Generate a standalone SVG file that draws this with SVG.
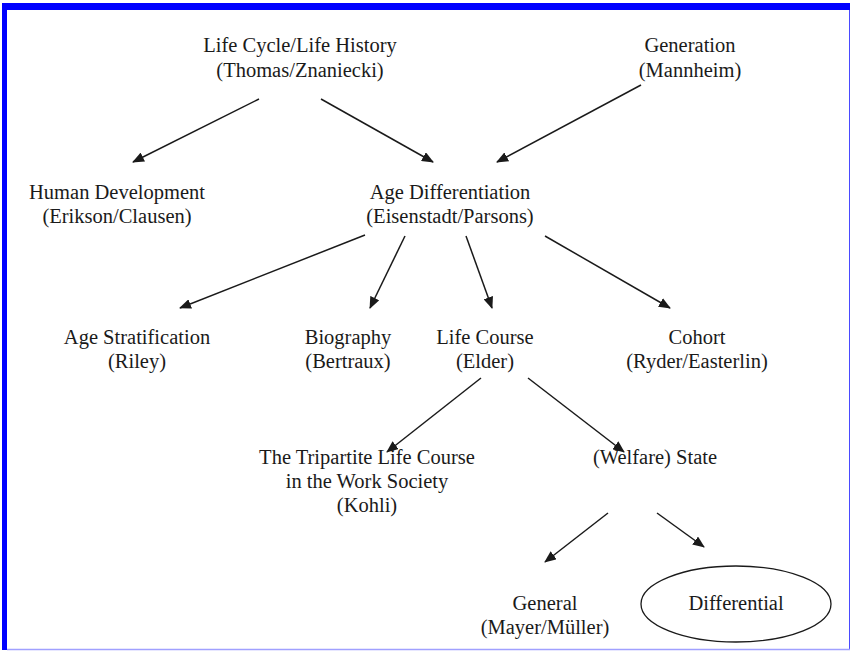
<svg xmlns="http://www.w3.org/2000/svg" width="851" height="651" viewBox="0 0 851 651">
<style>
text{font-family:"Liberation Serif","Times New Roman",serif;font-size:20.5px;fill:#1a1a1a;text-anchor:middle}
.c line{stroke:#1a1a1a;stroke-width:1.5;marker-end:url(#ah)}
</style>
<defs>
<marker id="ah" viewBox="0 0 12 10" refX="11" refY="5" markerWidth="12" markerHeight="10" markerUnits="userSpaceOnUse" orient="auto">
<path d="M0,0 L12,5 L0,10 Z" fill="#1a1a1a"/>
</marker>
</defs>
<rect width="851" height="651" fill="#fff"/>
<rect x="2" y="3" width="848" height="7" fill="#0000ff"/>
<rect x="2" y="3" width="5" height="647" fill="#0000ff"/>
<line x1="849.5" y1="10" x2="849.5" y2="650" stroke="#4a4aff" stroke-width="1"/>
<line x1="7" y1="649.5" x2="850" y2="649.5" stroke="#a0a0ff" stroke-width="1.5"/>
<g id="lifecycle"><text x="300" y="52">Life Cycle/Life History</text><text x="300" y="77">(Thomas/Znaniecki)</text></g>
<g id="generation"><text x="690" y="52">Generation</text><text x="690" y="77">(Mannheim)</text></g>
<g id="humandev"><text x="117" y="199">Human Development</text><text x="117" y="223">(Erikson/Clausen)</text></g>
<g id="agediff"><text x="450" y="199">Age Differentiation</text><text x="450" y="223">(Eisenstadt/Parsons)</text></g>
<g id="agestrat"><text x="137" y="344">Age Stratification</text><text x="137" y="368">(Riley)</text></g>
<g id="biography"><text x="348" y="344">Biography</text><text x="348" y="368">(Bertraux)</text></g>
<g id="lifecourse"><text x="485" y="344">Life Course</text><text x="485" y="368">(Elder)</text></g>
<g id="cohort"><text x="697" y="344">Cohort</text><text x="697" y="368">(Ryder/Easterlin)</text></g>
<g id="tripartite"><text x="367" y="464">The Tripartite Life Course</text><text x="367" y="488">in the Work Society</text><text x="367" y="512">(Kohli)</text></g>
<g id="welfare"><text x="655" y="464">(Welfare) State</text></g>
<g id="general"><text x="545" y="610">General</text><text x="545" y="634">(Mayer/Müller)</text></g>
<g id="differential"><ellipse cx="736" cy="604" rx="95" ry="38" fill="none" stroke="#1a1a1a" stroke-width="1.3"/><text x="736" y="610">Differential</text></g>
<g class="c" id="connectors">
<line x1="259" y1="99" x2="133" y2="162"/>
<line x1="321" y1="99" x2="433" y2="162"/>
<line x1="641" y1="85" x2="497" y2="162"/>
<line x1="365" y1="235" x2="180" y2="308"/>
<line x1="405" y1="236" x2="370" y2="308"/>
<line x1="466" y1="236" x2="492" y2="308"/>
<line x1="545" y1="236" x2="670" y2="308"/>
<line x1="481" y1="378" x2="387" y2="452"/>
<line x1="528" y1="378" x2="624" y2="452"/>
<line x1="608" y1="513" x2="545" y2="562"/>
<line x1="657" y1="513" x2="704" y2="547"/>
</g>
</svg>
